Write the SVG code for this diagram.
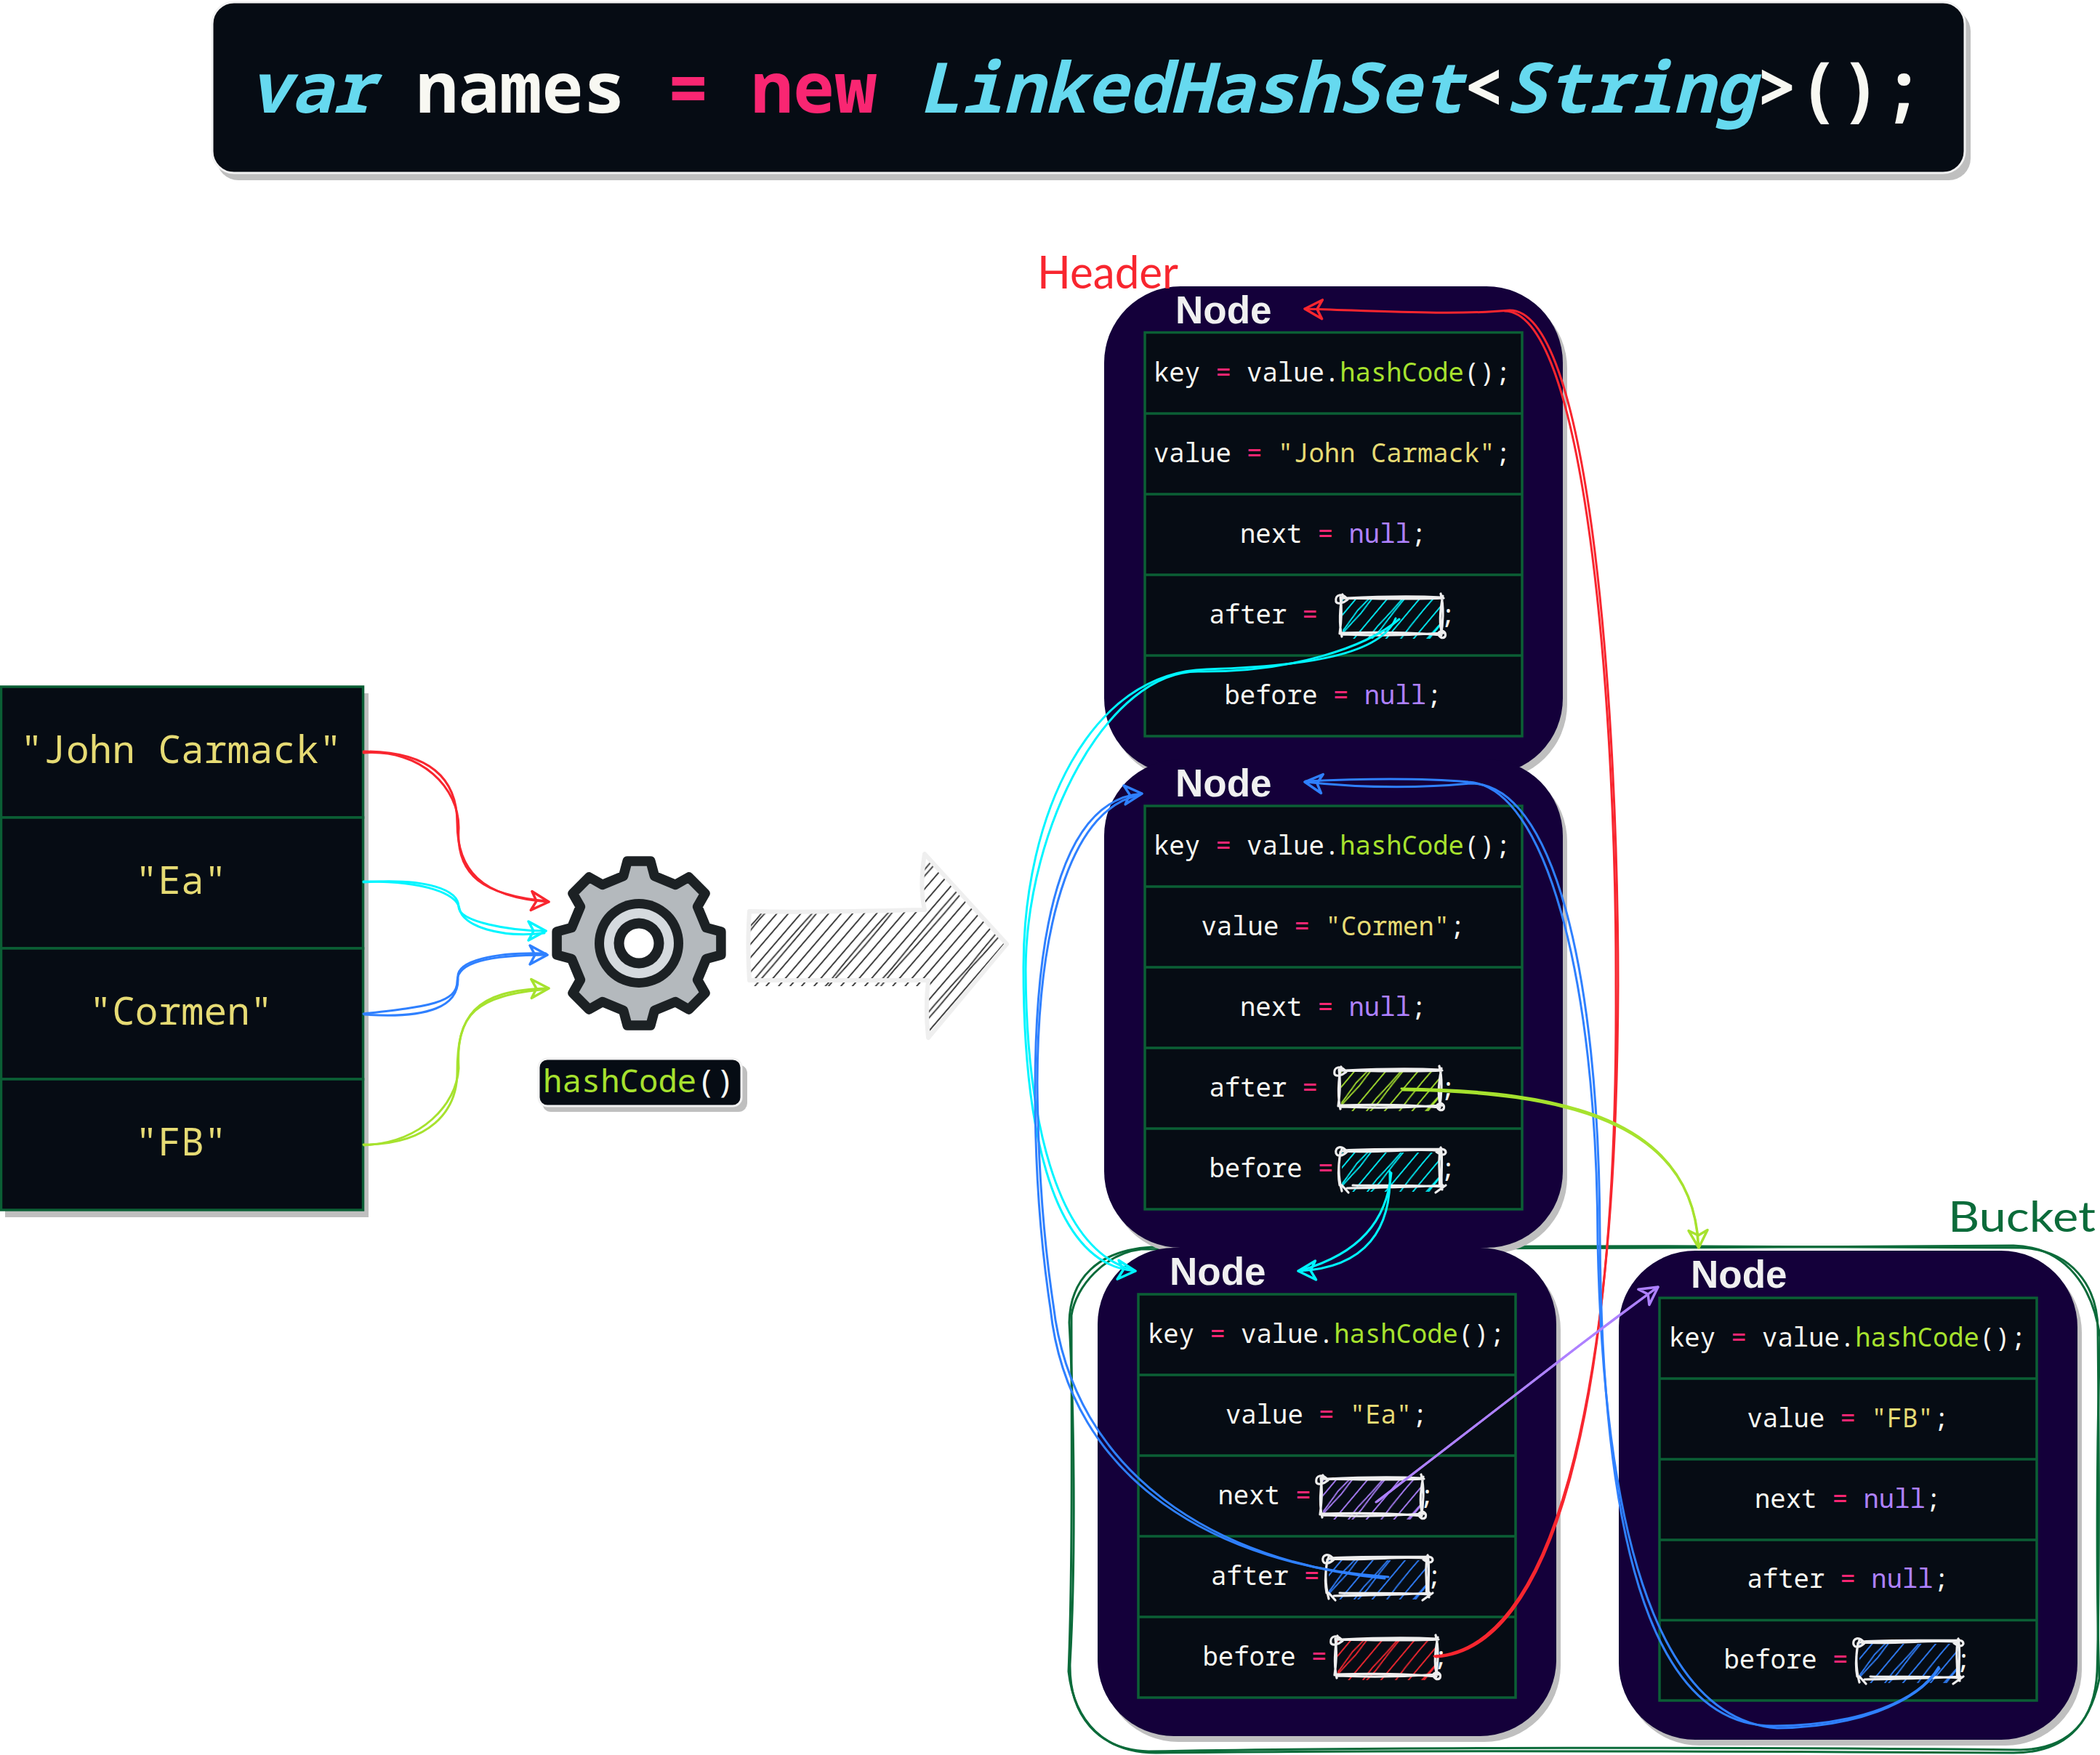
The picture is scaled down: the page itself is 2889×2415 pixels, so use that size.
<svg xmlns="http://www.w3.org/2000/svg" width="2889" height="2415" viewBox="0 0 2889 2415">
<style>
text{font-family:"Noto Sans Mono","DejaVu Sans Mono","Liberation Mono",monospace;white-space:pre}
.w{fill:#f8f8f2}.p{fill:#f92672}.g{fill:#a6e22e}.y{fill:#e6db74}.v{fill:#ae81ff}.c{fill:#66d9ef}
.sh{fill:#bfbfbf}
.panel{fill:#14003a}
.cell{fill:#060c14;stroke:#0b5f35;stroke-width:3.5}
.div{fill:none;stroke:#0b5f35;stroke-width:3.5}
.row{font-size:35.6px;fill:#f8f8f2}
.big{font-size:52.7px}
.nd{font-family:"Liberation Sans",Arial,sans-serif;font-weight:700;font-size:53px;fill:#f0f0f0}
.hand{font-family:Lato,"Open Sans",sans-serif}
.title{font-size:96px;font-weight:700;fill:#f8f8f2}
.sk{fill:none;stroke:#eeeeee;stroke-width:3.2;stroke-linecap:round}
.l{fill:none;stroke-width:3;stroke-linecap:round;stroke-linejoin:round}
.r{stroke:#f8262f}.cy{stroke:#00f5ff}.b{stroke:#2f80ff}.gr{stroke:#a6e22e}.pu{stroke:#ae81ff}
.bk{fill:none;stroke:#0b6b3a;stroke-width:3}
</style>
<defs>
<marker id="a-r" markerUnits="userSpaceOnUse" markerWidth="44" markerHeight="44" refX="34" refY="22" orient="auto" overflow="visible"><path d="M10 9L34 22L10 35L17 22Z" fill="none" stroke="#f8262f" stroke-width="3.5" stroke-linejoin="round"/></marker>
<marker id="a-c" markerUnits="userSpaceOnUse" markerWidth="44" markerHeight="44" refX="34" refY="22" orient="auto" overflow="visible"><path d="M10 9L34 22L10 35L17 22Z" fill="none" stroke="#00f5ff" stroke-width="3.5" stroke-linejoin="round"/></marker>
<marker id="a-b" markerUnits="userSpaceOnUse" markerWidth="44" markerHeight="44" refX="34" refY="22" orient="auto" overflow="visible"><path d="M10 9L34 22L10 35L17 22Z" fill="none" stroke="#2f80ff" stroke-width="3.5" stroke-linejoin="round"/></marker>
<marker id="a-g" markerUnits="userSpaceOnUse" markerWidth="44" markerHeight="44" refX="34" refY="22" orient="auto" overflow="visible"><path d="M10 9L34 22L10 35L17 22Z" fill="none" stroke="#a6e22e" stroke-width="3.5" stroke-linejoin="round"/></marker>
<marker id="a-p" markerUnits="userSpaceOnUse" markerWidth="44" markerHeight="44" refX="34" refY="22" orient="auto" overflow="visible"><path d="M10 9L34 22L10 35L17 22Z" fill="none" stroke="#ae81ff" stroke-width="3.5" stroke-linejoin="round"/></marker>
<path id="hl" d="M6 0Q2 60 6 120M19 0V120M31 0Q37 60 31 120M37 0Q33 60 37 120M52 0V120M66 0Q70 60 66 120M72 0Q68 60 72 120M86 0V120" fill="none" stroke-width="1.800"/>
<pattern id="h-c" width="96" height="120" patternUnits="userSpaceOnUse" patternTransform="rotate(40)"><use href="#hl" stroke="#00f5ff"/></pattern>
<pattern id="h-g" width="96" height="120" patternUnits="userSpaceOnUse" patternTransform="rotate(40)"><use href="#hl" stroke="#a6e22e"/></pattern>
<pattern id="h-b" width="96" height="120" patternUnits="userSpaceOnUse" patternTransform="rotate(40)"><use href="#hl" stroke="#2f80ff"/></pattern>
<pattern id="h-p" width="96" height="120" patternUnits="userSpaceOnUse" patternTransform="rotate(40)"><use href="#hl" stroke="#ae81ff"/></pattern>
<pattern id="h-r" width="96" height="120" patternUnits="userSpaceOnUse" patternTransform="rotate(40)"><use href="#hl" stroke="#f8262f"/></pattern>
<pattern id="h-k" width="132" height="420" patternUnits="userSpaceOnUse" patternTransform="rotate(40.700)"><path d="M5 0V420M18 0V420M30 0Q27 70 30 140Q27 210 30 280Q27 350 30 420M33 0Q36 70 33 140Q36 210 33 280Q36 350 33 420M46 0V420M58 0V420M71 0V420M83 0Q80 105 83 210Q80 315 83 420M87 0Q90 105 87 210Q90 315 87 420M100 0V420M113 0V420M125 0V420" fill="none" stroke="#2e2e2e" stroke-width="1.800"/></pattern>
<path id="rough" class="sk" d="M8 3C50 1 100 0 139 2M3 3C60 4 110 5 142 3M10 5C3 -5 -8 -2 -6 8C-4 12 4 10 10 5M138 -3C143 15 141 40 138 56M141 0C137 20 136 40 140 52M142 51C100 54 50 55 2 53M139 54C100 50 40 50 0 51M2 56C-2 40 -1 15 3 -2M-1 52C2 30 2 15 0 2M134 52C140 44 146 50 144 56C140 60 136 56 134 52"/>
<path id="rough2" class="sk" d="M6 2C50 -1 100 1 141 0M2 3C60 6 110 -2 139 3M10 4C3 -6 -7 -3 -5 6C-3 11 4 10 10 4M133 4C138 -2 146 0 146 5C144 10 138 8 133 4M139 -2C143 15 138 40 141 56M138 3C135 20 139 40 137 52M142 50C100 53 50 53 10 54M139 52C100 49 40 51 18 50M3 58C-2 40 -3 15 3 0M0 50C-4 30 0 15 1 4M146 50L132 60M3 50L12 60"/>
<rect id="box" x="3" y="5" width="136" height="54"/>
</defs>

<g id="title">
<rect class="sh" x="298" y="13" width="2413" height="235" rx="30"/>
<rect x="292" y="3" width="2411" height="235" rx="30" fill="#060c14" stroke="#f2f2f2" stroke-width="3"/>
<text class="title" x="342" y="155"><tspan class="c" font-style="italic">var</tspan> names <tspan class="p">=</tspan> <tspan class="p">new</tspan> <tspan class="c" font-style="italic">LinkedHashSet</tspan>&lt;<tspan class="c" font-style="italic">String</tspan>&gt;();</text>
</g>

<g id="input-table">
<rect class="sh" x="7" y="954" width="500" height="721"/>
<rect class="cell" x="1.5" y="945" width="498" height="180"/>
<rect class="cell" x="1.5" y="1125" width="498" height="180"/>
<rect class="cell" x="1.5" y="1305" width="498" height="180"/>
<rect class="cell" x="1.5" y="1485" width="498" height="180"/>
<g text-anchor="middle">
<text x="249" y="1050" class="big y">"John Carmack"</text>
<text x="249" y="1230" class="big y">"Ea"</text>
<text x="249" y="1410" class="big y">"Cormen"</text>
<text x="249" y="1590" class="big y">"FB"</text>
</g>
</g>

<g id="hash-gear" transform="translate(879 1298)">
<path d="M-15.900 -112.900L15.900 -112.900L21.400 -92.600L50.300 -80.600L68.600 -91L91 -68.600L80.600 -50.300L92.600 -21.400L112.900 -15.900L112.900 15.900L92.600 21.400L80.600 50.300L91 68.600L68.600 91L50.300 80.600L21.400 92.600L15.900 112.900L-15.900 112.900L-21.400 92.600L-50.300 80.600L-68.600 91L-91 68.600L-80.600 50.300L-92.600 21.400L-112.900 15.900L-112.900 -15.900L-92.600 -21.400L-80.600 -50.300L-91 -68.600L-68.600 -91L-50.300 -80.600L-21.400 -92.600Z" fill="#b4b9bd" stroke="#1c2124" stroke-width="13.500" stroke-linejoin="round"/>
<circle r="61" fill="#1c2124"/><circle r="48" fill="#d5dade"/><circle r="34.500" fill="#1c2124"/><circle r="20.500" fill="#fff"/>
</g>

<g id="hash-label">
<rect class="sh" x="746" y="1465" width="282" height="65" rx="12"/>
<rect x="741" y="1457" width="279" height="65" rx="12" fill="#060c14" stroke="#f2f2f2" stroke-width="3"/>
<text x="747" y="1503" font-size="44"><tspan class="g">hashCode</tspan><tspan class="w">()</tspan></text>
</g>

<g id="big-arrow">
<rect x="1036" y="1349" width="232" height="8" fill="url(#h-k)"/>
<path d="M1031 1254C1110 1256 1190 1254 1272 1252C1266 1225 1268 1200 1272 1175L1385 1299L1277 1428C1274 1400 1274 1375 1277 1349L1031 1349C1029 1320 1029 1285 1031 1254Z" fill="url(#h-k)" stroke="#efefef" stroke-width="6" stroke-linejoin="round"/>
</g>

<g id="bucket">
<path class="bk" d="M1585 1716C1900 1714 2400 1714 2780 1717C2850 1720 2886 1770 2886 1830C2888 2000 2888 2200 2885 2300C2882 2365 2850 2406 2780 2408C2400 2404 1900 2404 1580 2410C1510 2408 1471 2360 1472 2290C1480 2150 1478 1950 1471 1820C1472 1760 1510 1720 1585 1716Z"/>
<path class="bk" d="M1570 1719C1900 1718 2400 1718 2770 1714C2845 1716 2880 1775 2889 1840C2884 2000 2884 2200 2888 2310C2875 2375 2840 2412 2770 2412C2400 2410 1900 2408 1590 2412C1520 2412 1478 2370 1470 2300C1476 2150 1474 1950 1474 1810C1480 1770 1520 1725 1570 1719Z"/>
</g>

<g id="node-john">
<rect class="sh" x="1525" y="402" width="631" height="672" rx="105"/>
<rect class="panel" x="1519" y="394" width="631" height="672" rx="105"/>
<rect class="cell" x="1575" y="457.500" width="519" height="555.500"/>
<path class="div" d="M1575 569H2094M1575 680H2094M1575 791H2094M1575 902H2094"/>
<text class="nd" x="1617" y="445">Node</text>
<text class="row" x="1587" y="525">key <tspan class="p">=</tspan> value.<tspan class="g">hashCode</tspan>();</text>
<text class="row" x="1587" y="636">value <tspan class="p">=</tspan> <tspan class="y">"John Carmack"</tspan>;</text>
<text class="row" x="1706" y="747">next <tspan class="p">=</tspan> <tspan class="v">null</tspan>;</text>
<text class="row" x="1663.500" y="858">after <tspan class="p">=</tspan><tspan x="1981">;</tspan></text>
<text class="row" x="1684.500" y="969">before <tspan class="p">=</tspan> <tspan class="v">null</tspan>;</text>
<g transform="translate(1844 820)"><use href="#box" fill="url(#h-c)"/><use href="#rough"/></g>
</g>

<g id="node-cormen">
<rect class="sh" x="1525" y="1053" width="631" height="672" rx="105"/>
<rect class="panel" x="1519" y="1045" width="631" height="672" rx="105"/>
<rect class="cell" x="1575" y="1109" width="519" height="555"/>
<path class="div" d="M1575 1220H2094M1575 1331H2094M1575 1442H2094M1575 1553H2094"/>
<text class="nd" x="1617" y="1096">Node</text>
<text class="row" x="1587" y="1176">key <tspan class="p">=</tspan> value.<tspan class="g">hashCode</tspan>();</text>
<text class="row" x="1652.500" y="1287">value <tspan class="p">=</tspan> <tspan class="y">"Cormen"</tspan>;</text>
<text class="row" x="1706" y="1398">next <tspan class="p">=</tspan> <tspan class="v">null</tspan>;</text>
<text class="row" x="1663.500" y="1509">after <tspan class="p">=</tspan><tspan x="1981">;</tspan></text>
<text class="row" x="1663.500" y="1620">before <tspan class="p">=</tspan><tspan x="1981">;</tspan></text>
<g transform="translate(1842 1470)"><use href="#box" fill="url(#h-g)"/><use href="#rough"/></g>
<g transform="translate(1843 1581)"><use href="#box" fill="url(#h-c)"/><use href="#rough2"/></g>
</g>

<g id="node-ea">
<rect class="sh" x="1516" y="1725" width="631" height="672" rx="105"/>
<rect class="panel" x="1510" y="1717" width="631" height="672" rx="105"/>
<rect class="cell" x="1566" y="1781" width="519" height="555"/>
<path class="div" d="M1566 1892H2085M1566 2003H2085M1566 2114H2085M1566 2225H2085"/>
<text class="nd" x="1609" y="1768">Node</text>
<text class="row" x="1579" y="1848">key <tspan class="p">=</tspan> value.<tspan class="g">hashCode</tspan>();</text>
<text class="row" x="1686" y="1959">value <tspan class="p">=</tspan> <tspan class="y">"Ea"</tspan>;</text>
<text class="row" x="1675.500" y="2070">next <tspan class="p">=</tspan><tspan x="1952">;</tspan></text>
<text class="row" x="1666" y="2181">after <tspan class="p">=</tspan><tspan x="1962">;</tspan></text>
<text class="row" x="1654.500" y="2291.500">before <tspan class="p">=</tspan><tspan x="1971">;</tspan></text>
<g transform="translate(1817 2032)"><use href="#box" fill="url(#h-p)"/><use href="#rough"/></g>
<g transform="translate(1825 2142)"><use href="#box" fill="url(#h-b)"/><use href="#rough2"/></g>
<g transform="translate(1837 2253)"><use href="#box" fill="url(#h-r)"/><use href="#rough"/></g>
</g>

<g id="node-fb">
<rect class="sh" x="2233" y="1729" width="631" height="673" rx="105"/>
<rect class="panel" x="2227" y="1721" width="631" height="673" rx="105"/>
<rect class="cell" x="2283" y="1786" width="519" height="554"/>
<path class="div" d="M2283 1897H2802M2283 2008H2802M2283 2119H2802M2283 2229.500H2802"/>
<text class="nd" x="2326" y="1772">Node</text>
<text class="row" x="2296" y="1852.500">key <tspan class="p">=</tspan> value.<tspan class="g">hashCode</tspan>();</text>
<text class="row" x="2403.500" y="1963.500">value <tspan class="p">=</tspan> <tspan class="y">"FB"</tspan>;</text>
<text class="row" x="2414" y="2074.500">next <tspan class="p">=</tspan> <tspan class="v">null</tspan>;</text>
<text class="row" x="2403.500" y="2185">after <tspan class="p">=</tspan> <tspan class="v">null</tspan>;</text>
<text class="row" x="2371.500" y="2296">before <tspan class="p">=</tspan><tspan x="2690">;</tspan></text>
<g transform="translate(2555 2257)"><use href="#box" fill="url(#h-b)"/><use href="#rough2"/></g>
</g>

<g id="labels">
<text class="hand" x="1427" y="397" font-size="62" fill="#f8262f" textLength="194" lengthAdjust="spacingAndGlyphs">Header</text>
<text class="hand" x="2680" y="1695" font-size="58" fill="#0b6b3a" textLength="203" lengthAdjust="spacingAndGlyphs">Bucket</text>
</g>

<g id="connectors">
<path class="l r" d="M500 1034C590 1034 629 1070 629 1133C629 1195 660 1235 755 1241" marker-end="url(#a-r)"/>
<path class="l r" d="M500 1036C580 1030 632 1085 631 1140C627 1205 665 1232 753 1240"/>
<path class="l cy" d="M500 1214C590 1208 631 1225 631 1248C631 1268 700 1281 751 1281" marker-end="url(#a-c)"/>
<path class="l cy" d="M500 1213C585 1212 628 1230 632 1250C636 1275 690 1291 749 1284"/>
<path class="l b" d="M500 1395C590 1385 629 1380 629 1350C629 1325 670 1314 753 1314" marker-end="url(#a-b)"/>
<path class="l b" d="M501 1396C590 1402 632 1385 630 1345C628 1322 680 1310 751 1312"/>
<path class="l gr" d="M500 1575C590 1575 629 1530 629 1475C629 1400 650 1362 755 1360" marker-end="url(#a-g)"/>
<path class="l gr" d="M501 1576C580 1572 628 1520 631 1470C627 1395 655 1370 753 1361"/>

<path class="l r" d="M1973 2279C2130 2270 2224 1950 2226 1355C2226 1000 2190 427 2077 427C2000 434 1900 428 1795 425" marker-end="url(#a-r)"/>
<path class="l r" d="M1975 2280C2132 2272 2226 1950 2223 1355C2224 1010 2186 429 2070 428"/>
<path class="l cy" d="M1920 851C1900 900 1800 917 1660 921C1500 925 1408 1120 1408 1331C1408 1530 1440 1740 1562 1749" marker-end="url(#a-c)"/>
<path class="l cy" d="M1925 852C1880 890 1780 925 1650 924C1525 922 1412 1135 1411 1335C1412 1530 1450 1720 1560 1748"/>
<path class="l b" d="M1910 2170C1680 2155 1470 2040 1445 1800C1430 1700 1424 1600 1424 1500C1424 1250 1470 1100 1571 1092" marker-end="url(#a-b)"/>
<path class="l b" d="M1905 2172C1675 2150 1476 2030 1449 1795C1434 1695 1428 1600 1427 1490C1428 1255 1480 1110 1568 1094"/>
<path class="l b" d="M2667 2294C2640 2340 2560 2374 2440 2375C2300 2375 2204 2200 2201 1700C2200 1330 2135 1078 2023 1078C1950 1085 1880 1085 1795 1076" marker-end="url(#a-b)"/>
<path class="l b" d="M2668 2296C2635 2345 2550 2377 2445 2378C2310 2368 2208 2190 2198 1710C2197 1340 2125 1082 2020 1076C1950 1070 1860 1072 1796 1075"/>
<path class="l gr" d="M1928 1498C2150 1500 2330 1540 2337 1717" marker-end="url(#a-g)"/>
<path class="l gr" d="M1930 1500C2150 1503 2328 1543 2336 1712"/>
<path class="l cy" d="M1912 1612C1915 1690 1880 1745 1786 1749" marker-end="url(#a-c)"/>
<path class="l cy" d="M1914 1614C1908 1680 1870 1725 1790 1748"/>
<path class="l pu" d="M1893 2067L2140 1877C2200 1830 2240 1800 2281 1771" marker-end="url(#a-p)"/>
<path class="l pu" d="M1895 2066L2142 1875C2198 1832 2240 1802 2279 1772"/>
</g>
</svg>
